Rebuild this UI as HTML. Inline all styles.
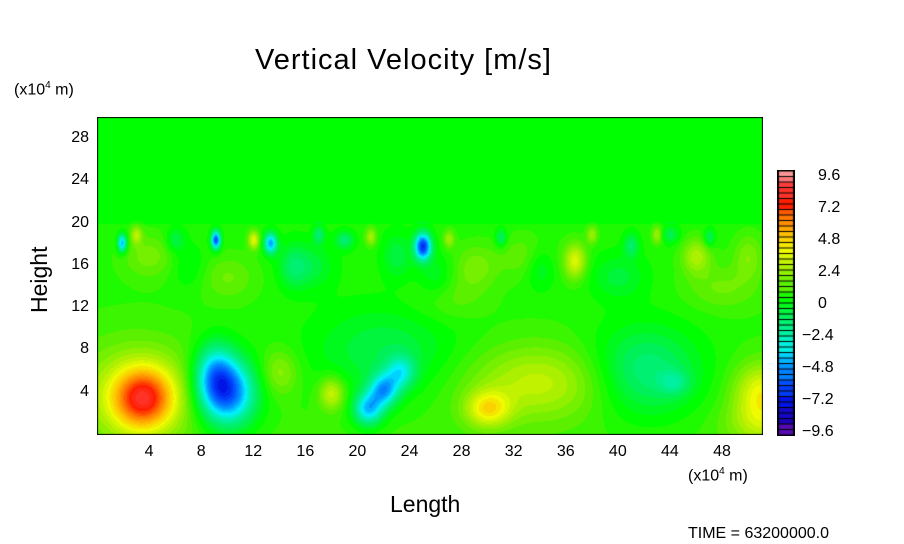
<!DOCTYPE html>
<html><head><meta charset="utf-8">
<style>
body{margin:0;background:#fff;width:904px;height:544px;overflow:hidden;font-family:"Liberation Sans",sans-serif}
#wrap{position:relative;width:904px;height:544px}
.t{position:absolute;color:#000;white-space:nowrap}
</style></head><body>
<div id="wrap">
<div class="t" style="left:255px;top:44px;font-size:29px;letter-spacing:1px">Vertical Velocity [m/s]</div>
<div class="t" style="left:14px;top:80px;font-size:16px">(x10<sup style="font-size:10px">4</sup> m)</div>
<div class="t" style="left:688px;top:466px;font-size:16px">(x10<sup style="font-size:10px">4</sup> m)</div>
<div class="t" style="left:390px;top:491px;font-size:23px">Length</div>
<div class="t" style="left:26px;top:313px;font-size:23px;transform:rotate(-90deg);transform-origin:0 0">Height</div>
<div class="t" style="left:688px;top:525px;font-size:16px">TIME = 63200000.0</div>
<canvas id="plot" width="666" height="318" style="position:absolute;left:97px;top:117px"></canvas>
<canvas id="cbar" width="18" height="266" style="position:absolute;left:777px;top:170px"></canvas>
<div id="labels"></div>
</div>
<script>
const xTicks=[4,8,12,16,20,24,28,32,36,40,44,48];
const yTicks=[4,8,12,16,20,24,28];
const cbTicks=[9.6,7.2,4.8,2.4,0,-2.4,-4.8,-7.2,-9.6];
const cbLabels=["9.6","7.2","4.8","2.4","0","\u22122.4","\u22124.8","\u22127.2","\u22129.6"];
// blobs: x, y (x10^4 m), sx, sy, amplitude (m/s)
const blobX=[3.5,3,10,9,20.8,22,23.3,22,30,34,42,44.3,51,18,14,51, 1.9,9.1,13.3,25,36.7,12,19,4,16.5,29,46,40,33,7,27,44,48, 3,6,15,21,23,27,31,34,38,41,43,47,50,10,17,26];
const blobY=[3.5,4,4,6,2.5,4.3,6,8,2.5,5,6,5,4,4,6,1, 18.2,18.5,18.2,17.9,16.5,18.5,18.5,17,16,16,17,15,17,16,13,19,14, 19,18.5,16,18.8,17,18.6,18.7,16,19,18,19,18.7,17,15,19,15];
const blobSX=[1.6,3.5,1.5,1.1,0.8,0.8,0.8,4,1.2,4,3,0.8,1.5,0.7,1,2, 0.25,0.25,0.35,0.45,0.6,0.3,0.5,1.5,1.2,1.2,0.8,1.5,1.5,1,2,0.5,2, 0.3,0.5,0.8,0.3,0.8,0.3,0.3,0.8,0.3,0.4,0.3,0.3,0.8,1.5,0.3,1];
const blobSY=[2,3.5,2.2,2,1.1,1.1,1.1,3,1.2,2.5,3,0.8,2,1.1,1.5,1.5, 0.6,0.6,0.7,0.9,1.2,0.6,0.6,1.5,1.5,1.5,1.2,1.5,1.5,1.5,1.5,0.6,1.5, 0.6,0.8,1.5,0.6,1.5,0.6,0.6,1.5,0.6,0.8,0.6,0.6,1.5,1.5,0.6,1.5];
const blobA=[5.5,2,-6.3,-3.5,-4.5,-4.5,-3,-1.5,3,2.2,-2.5,-1.5,3,2.5,1.5,1.5, -5,-6.5,-5,-7,2.8,3,-2,1.2,-1.2,1.2,2,-1.2,1,-0.8,0.8,-1.5,1, 2,-1.5,-1.5,2,-1.3,1.8,-2,-1.3,1.8,-1.8,2,-1.8,1.3,1,-2,-1];
const xMax=51.15, yMax=30.1, W=666, H=318;
const xs=v=>v/xMax*W, ys=v=>H-v/yMax*H;
const stops=[[-9.6,[112,16,176]],[-8.4,[30,0,180]],[-7.2,[0,20,230]],[-6,[0,80,255]],[-4.8,[0,150,255]],[-3.6,[0,240,255]],[-2.4,[0,240,160]],[-1.2,[0,240,90]],[0,[0,255,0]],[1.2,[90,240,0]],[2.4,[170,240,0]],[3.6,[240,250,0]],[4.8,[255,190,0]],[6,[255,120,0]],[7.2,[255,30,0]],[8.4,[255,60,60]],[9.6,[255,150,150]]];
function color(v){
  v=Math.round(v/0.4)*0.4; v=Math.max(-9.6,Math.min(9.6,v));
  for(let i=0;i<stops.length-1;i++){const a=stops[i],b=stops[i+1];
    if(v<=b[0]){const t=(v-a[0])/(b[0]-a[0]);return a[1].map((c,k)=>Math.round(c+(b[1][k]-c)*t));}}
  return stops[stops.length-1][1];
}
function field(x,y){
  let v=y<20?0.5*Math.max(0,1-y/30)+0.2:0;
  for(let i=0;i<blobX.length;i++){
    if(blobY[i]>15&&y>20.3)continue;
    const dx=(x-blobX[i])/blobSX[i],dy=(y-blobY[i])/blobSY[i];
    v+=blobA[i]*Math.exp(-0.5*(dx*dx+dy*dy));
  }
  return v;
}
const c=document.getElementById('plot').getContext('2d');
const img=c.createImageData(W,H);
for(let py=0;py<H;py++)for(let px=0;px<W;px++){
  const x=px/W*xMax,y=(H-py)/H*yMax;
  const col=color(field(x,y)),o=(py*W+px)*4;
  img.data[o]=col[0];img.data[o+1]=col[1];img.data[o+2]=col[2];img.data[o+3]=255;
}
c.putImageData(img,0,0);
c.strokeStyle='#000';c.lineWidth=2;c.strokeRect(0,0,W,H);
const cb=document.getElementById('cbar').getContext('2d');
const nb=48,bh=264/nb;
cb.fillStyle='#000';cb.fillRect(0,0,18,266);
for(let i=0;i<nb;i++){const v=9.6-(i+0.5)*0.4;const col=color(v);
  cb.fillStyle=`rgb(${col})`;cb.fillRect(2,1+i*bh+0.5,14,bh-1);}
const L=document.getElementById('labels');
function lab(txt,x,y,name,align){
  const d=document.createElement('div');d.className='t';d.textContent=txt;
  d.style.left=x+'px';d.style.top=y+'px';d.style.fontSize='16px';
  if(align)d.style.transform='translateX(-50%)';
  
  
  L.appendChild(d);
}
xTicks.forEach(v=>lab(String(v),97+xs(v),443,'x-tick-'+v,true));
yTicks.forEach(v=>{const d=document.createElement('div');d.className='t';d.textContent=v;
  d.style.right=(904-89)+'px';d.style.top=(117+ys(v)-10)+'px';d.style.fontSize='16px';
  
  
  L.appendChild(d);});
cbTicks.forEach((v,i)=>lab(cbLabels[i],v<0?802:818,171+(9.6-v)/19.2*256-4,'colorbar-tick-'+i,false));
</script>
</body></html>
